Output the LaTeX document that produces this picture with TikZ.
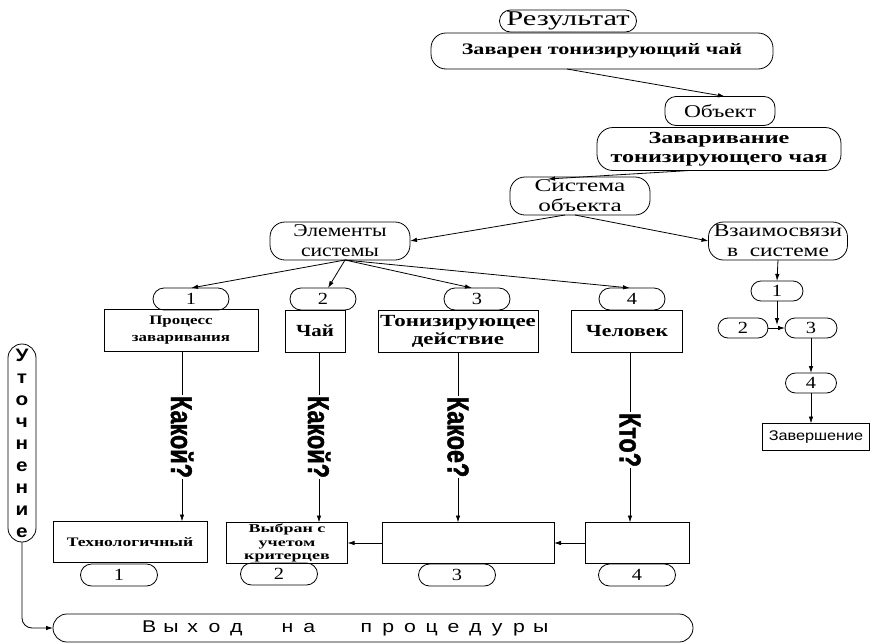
\documentclass[tikz,border=0pt]{standalone}
\usepackage{fontspec}
\setmainfont{Liberation Serif}
\setsansfont{Liberation Sans}
\usetikzlibrary{arrows.meta,calc}
% size, leading, horizontal stretch
\newcommand\setfnt[3]{\fontsize{#1}{#2}\selectfont\addfontfeature{FakeStretch=#3}}
% one spaced letter of the bottom bar
\newcommand\ltr[1]{\makebox[21.8pt]{#1}}
\begin{document}
\begin{tikzpicture}[x=1pt,y=-1pt,
  every node/.style={inner sep=0pt,outer sep=0pt},
  pill/.style={draw,line width=0.8pt,rounded corners=11pt,align=center},
  nbox/.style={draw,line width=0.8pt,align=center},
  link/.style={line width=0.8pt,-{Latex[length=7pt,width=4.5pt]}},
  plain/.style={line width=0.8pt},
  qlabel/.style={rotate=-90,fill=white,inner sep=1pt,font=\sffamily\bfseries\setfnt{30}{30}{0.78}\addfontfeature{FakeBold=1.5}},
  numfont/.style={font=\setfnt{17}{17}{1.2}}
]
\useasboundingbox (0,0) rectangle (879,643);

% top chain
\node[pill,minimum width=137,minimum height=22,font=\setfnt{21}{21}{1.45}] (res) at (568,21) {Результат};
\node[pill,rounded corners=15pt,minimum width=342,minimum height=36,font=\bfseries\setfnt{16}{16}{1.38}] (tea) at (602,51) {Заварен тонизирующий чай};
\node[pill,minimum width=110,minimum height=29,font=\setfnt{18}{18}{1.3}] (obj) at (720,111) {Объект};
\node[pill,rounded corners=16pt,minimum width=244,minimum height=43,font=\bfseries\setfnt{17}{19}{1.42}] (brew) at (719,149) {Заваривание\\тонизирующего чая};
\node[pill,rounded corners=15pt,minimum width=140,minimum height=38,font=\setfnt{18}{20}{1.4}] (sys) at (580,196) {Система\\объекта};
\node[pill,rounded corners=15pt,minimum width=140,minimum height=38,font=\setfnt{18}{20}{1.2}] (elem) at (340,241) {Элементы\\системы};
\node[pill,rounded corners=15pt,minimum width=139,minimum height=38,font=\setfnt{18}{20}{1.3}] (rel) at (778,241) {Взаимосвязи\\в\ \ системе};

\draw[link] ($(tea.south)+(-35,0)$) -- ($(obj.north)+(5,0)$);
\draw[link] ($(brew.south)+(-29,0)$) -- ($(sys.north)+(-32,2)$);
\draw[link] ($(sys.south)+(-15,0)$) -- (elem.east);
\draw[link] ($(sys.south)+(-5,0)$) -- (rel.west);

% element numbers
\node[pill,minimum width=76,minimum height=22,numfont] (e1) at (191,299) {1};
\node[pill,minimum width=66,minimum height=22,numfont] (e2) at (323,299) {2};
\node[pill,minimum width=66,minimum height=22,numfont] (e3) at (477,299) {3};
\node[pill,minimum width=66,minimum height=22,numfont] (e4) at (632,299) {4};
\draw[link] ($(elem.south)+(5,0)$) -- (e1.north);
\draw[link] ($(elem.south)+(5,0)$) -- ($(e2.north)+(5,0)$);
\draw[link] ($(elem.south)+(5,0)$) -- ($(e3.north)+(-5,0)$);
\draw[link] ($(elem.south)+(5,0)$) -- ($(e4.north)+(-2,0)$);

% elements
\node[nbox,minimum width=154,minimum height=42,font=\bfseries\setfnt{13}{17}{1.3}] (b1) at (181,330) {Процесс\\заваривания};
\node[nbox,minimum width=60,minimum height=42,font=\bfseries\setfnt{17}{17}{1.23}] (b2) at (315,331) {Чай};
\node[nbox,minimum width=160,minimum height=42,font=\bfseries\setfnt{17}{18}{1.35}] (b3) at (458,331) {Тонизирующее\\действие};
\node[nbox,minimum width=111,minimum height=42,font=\bfseries\setfnt{17}{17}{1.28}] (b4) at (627,331) {Человек};

% questions
\node[qlabel] (q1) at (182,437) {Какой?};
\node[qlabel] (q2) at (319,437) {Какой?};
\node[qlabel] (q3) at (458,437) {Какое?};
\node[qlabel] (q4) at (630,440) {Кто?};

% answers
\node[nbox,minimum width=154,minimum height=41,font=\bfseries\setfnt{13}{13}{1.35}] (r1) at (130,542) {Технологичный};
\node[nbox,minimum width=121,minimum height=41,font=\bfseries\setfnt{12}{13.3}{1.5}] (r2) at (287,543) {Выбран с\\учетом\\критерцев};
\node[nbox,minimum width=172,minimum height=41] (r3) at (468,543) {};
\node[nbox,minimum width=104,minimum height=41] (r4) at (637,543) {};

\draw[plain] (b1.south -| q1) -- (q1.west);
\draw[link] (q1.east) -- (q1.east |- r1.north);
\draw[plain] (b2.south -| q2) -- (q2.west);
\draw[link] (q2.east) -- (q2.east |- r2.north);
\draw[plain] (b3.south -| q3) -- (q3.west);
\draw[link] (q3.east) -- (q3.east |- r3.north);
\draw[plain] (b4.south -| q4) -- (q4.west);
\draw[link] (q4.east) -- (q4.east |- r4.north);

\draw[link] (r4.west) -- (r3.east);
\draw[link] (r3.west) -- (r2.east);

\node[pill,minimum width=77,minimum height=22,numfont] (a1) at (119,575) {1};
\node[pill,minimum width=77,minimum height=22,numfont] (a2) at (279,574) {2};
\node[pill,minimum width=77,minimum height=22,numfont] (a3) at (457,575) {3};
\node[pill,minimum width=77,minimum height=22,numfont] (a4) at (637,575) {4};

% refinement and exit
\node[pill,rounded corners=14pt,minimum width=28,minimum height=198,font=\sffamily\bfseries\setfnt{18}{22}{1.15}] (ut) at (22,443) {У\\т\\о\\ч\\н\\е\\н\\и\\е};
\node[pill,rounded corners=14pt,minimum width=640,minimum height=28,font=\sffamily\setfnt{17}{17}{1.25}] (vyh) at (373,628)
  {\ltr{В}\ltr{ы}\ltr{х}\ltr{о}\ltr{д}\hspace{29.3pt}\ltr{н}\ltr{а}\hspace{35.3pt}\ltr{п}\ltr{р}\ltr{о}\ltr{ц}\ltr{е}\ltr{д}\ltr{у}\ltr{р}\ltr{ы}\hspace{56pt}};
\draw[link,rounded corners=10pt] (ut.south) |- (vyh.west);

% relations chain
\node[pill,rounded corners=10pt,minimum width=52,minimum height=20,numfont] (o1) at (777,291) {1};
\node[pill,rounded corners=10pt,minimum width=50,minimum height=20,numfont] (o2) at (743,328) {2};
\node[pill,rounded corners=10pt,minimum width=52,minimum height=20,numfont] (o3) at (811,328) {3};
\node[pill,rounded corners=10pt,minimum width=51,minimum height=20,numfont] (o4) at (811,383) {4};
\node[nbox,minimum width=107,minimum height=27,font=\sffamily\setfnt{14}{14}{1.16}] (fin) at (816,437) {Завершение};
\coordinate (join) at ($(o1.south |- o2.east)+(0,-3)$);
\draw[link] (rel.south) -- (o1.north);
\draw[link] (o1.south) -- (join);
\draw[link] (o2.east) -- (o3.west);
\draw[link] (o3.south) -- (o4.north);
\draw[link] (o4.south) -- (o4.south |- fin.north);
\end{tikzpicture}
\end{document}
